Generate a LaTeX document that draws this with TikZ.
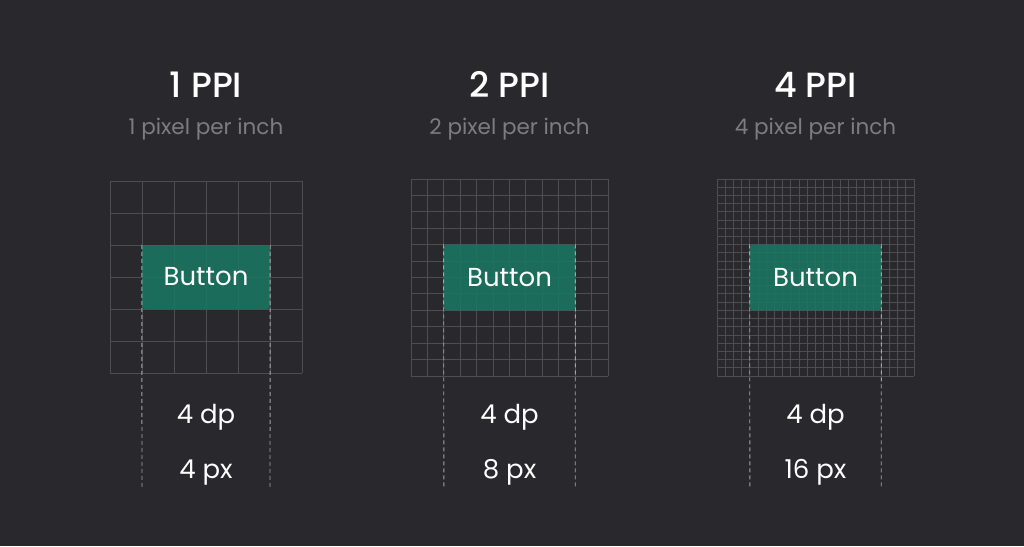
\documentclass[tikz,border=0pt]{standalone}
\usepackage{fontspec}
\setmainfont{Poppins}
\newfontfamily\titlefont{Poppins Medium}
\usetikzlibrary{positioning}

\definecolor{bgdark}{RGB}{41,40,45}
\definecolor{gridgray}{RGB}{78,77,83}
\definecolor{btnteal}{RGB}{26,120,100}
\definecolor{subgray}{RGB}{125,124,129}
\definecolor{dashgray}{RGB}{165,165,168}

\tikzset{
	gridline/.style={draw=gridgray, line width=0.9pt},
	btnbox/.style={fill=btnteal, fill opacity=0.85, text opacity=1, rounded corners=3pt,
		inner sep=0pt, text=white, font=\fontsize{26}{30}\selectfont},
	ppititle/.style={anchor=base, text=white, font=\titlefont\fontsize{35}{40}\selectfont},
	ppisub/.style={anchor=base, text=subgray, font=\fontsize{21.5}{26}\selectfont},
	sizelabel/.style={anchor=base, text=white, font=\fontsize{26}{30}\selectfont},
	guide/.style={draw=dashgray, line width=0.9pt, dash pattern=on 4pt off 3pt}
}

\begin{document}
\begin{tikzpicture}[x=1pt, y=-1pt]
	\fill[bgdark] (0,0) rectangle (1024,546);
	\useasboundingbox (0,0) rectangle (1024,546);
	\foreach \k/\ox/\oy/\u/\n/\px in {1/110/181/32/1/4, 2/411/179/32.84/2/8, 3/717/179/32.84/4/16} {
		\pgfmathtruncatemacro\N{6*\n}
		% grid
		\foreach \i in {0,...,\N} {
			\draw[gridline] (\ox+\i*\u/\n,\oy) -- (\ox+\i*\u/\n,\oy+6*\u);
			\draw[gridline] (\ox,\oy+\i*\u/\n) -- (\ox+6*\u,\oy+\i*\u/\n);
		}
		% button
		\node[btnbox, minimum width=4*\u, minimum height=2*\u] (btn\k) at (\ox+3*\u,\oy+3*\u) {Button};
		% texts
		\node[ppititle] (title\k) at (\ox+3*\u,97) {\n\ PPI};
		\node[ppisub] (sub\k) at (\ox+3*\u,134) {\n\ pixel per inch};
		\node[sizelabel] (dp\k) at (\ox+3*\u,423) {4 dp};
		\node[sizelabel] (px\k) at (\ox+3*\u,478) {\px\ px};
		% guides
		\coordinate (dl\k) at (\ox+\u,488);
		\coordinate (dr\k) at (\ox+5*\u,488);
		\draw[guide] (btn\k.north west) -- (dl\k);
		\draw[guide] (btn\k.north east) -- (dr\k);
	}
\end{tikzpicture}
\end{document}
